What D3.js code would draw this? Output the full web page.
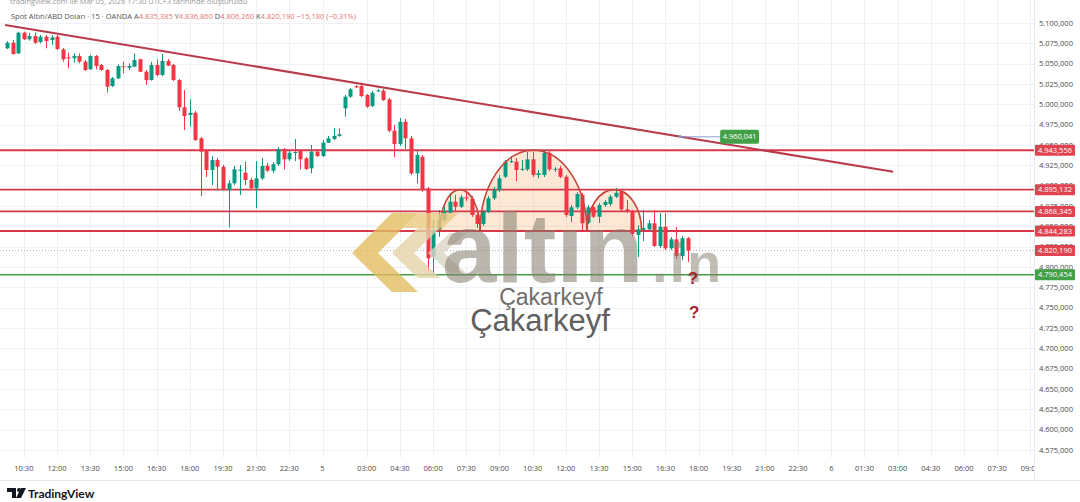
<!DOCTYPE html>
<html><head><meta charset="utf-8">
<script src="https://cdn.jsdelivr.net/npm/d3@7"></script>
<style>html,body{margin:0;padding:0;background:#fff;} svg{display:block;font-family:"Open Sans","Liberation Sans",Arial,sans-serif;}</style>
</head><body>
<svg id="c" width="1080" height="502"></svg>
<script>
// ---------- DATA ----------
const open=[5068.9,5075.8,5062.7,5088.1,5080.0,5084.0,5076.6,5083.2,5079.1,5083.2,
5067.7,5057.8,5056.6,5059.4,5052.4,5043.1,5059.4,5048.4,5042.2,5022.5,
5032.0,5046.8,5045.0,5046.3,5055.4,5040.1,5029.9,5048.4,5036.1,5053.3,
5048.4,5029.9,4996.3,4986.9,4989.7,4958.2,4943.8,4919.3,4931.5,4923.3,
4894.7,4902.9,4918.9,4915.9,4907.0,4896.8,4909.0,4924.5,4918.4,4926.3,
4945.1,4932.4,4940.5,4942.6,4933.6,4921.3,4941.8,4936.5,4952.8,4957.4,
4961.1,4995.1,5009.4,5022.2,5022.5,5011.5,4997.9,5016.4,5016.8,5006.2,
4967.6,4951.2,4978.6,4958.2,4915.2,4935.6,4896.8,4812.6,4846.3,4857.8,
4866.7,4880.3,4874.1,4885.7,4884.2,4863.9,4852.9,4868.0,4884.5,4894.7,
4911.0,4929.5,4929.5,4919.9,4920.1,4932.4,4913.1,4913.1,4940.5,4920.1,
4921.3,4911.0,4862.7,4873.4,4888.5,4854.4,4873.4,4861.8,4876.2,4877.4,
4886.4,4892.6,4870.9,4868.0,4839.3,4845.5,4846.3,4853.7,4825.8,4849.5,
4823.0,4834.0,4813.5,4835.385];
const high=[5077.9,5079.1,5089.3,5089.3,5088.1,5088.1,5085.2,5085.2,5085.2,5085.2,
5069.3,5063.5,5062.7,5062.7,5054.5,5060.7,5060.7,5049.6,5043.4,5033.6,
5049.2,5052.4,5050.5,5062.7,5056.1,5042.2,5052.4,5055.4,5061.9,5055.7,
5049.6,5031.1,5017.6,5006.2,4991.8,4959.8,4945.1,4936.5,4934.0,4925.4,
4907.0,4924.2,4925.4,4929.5,4909.4,4930.3,4934.0,4927.9,4929.1,4947.5,
4946.3,4943.8,4957.4,4943.8,4935.2,4950.0,4945.1,4956.1,4961.1,4970.5,
4970.5,5011.5,5020.1,5023.8,5023.8,5012.7,5016.4,5018.9,5018.9,5007.8,
4974.6,4983.2,4982.0,4961.1,4943.8,4937.7,4898.3,4857.8,4870.1,4876.2,
4890.6,4888.5,4888.5,4891.0,4887.3,4866.4,4870.1,4887.3,4898.3,4913.1,
4931.5,4936.5,4934.0,4931.5,4941.4,4941.4,4919.3,4943.8,4942.6,4922.9,
4924.2,4913.1,4876.2,4892.2,4891.0,4876.2,4875.0,4878.7,4882.4,4888.5,
4897.1,4894.7,4882.4,4870.1,4851.6,4870.1,4857.8,4870.1,4866.4,4866.4,
4836.9,4849.2,4838.1,4836.86];
const low=[5068.0,5061.0,5061.9,5079.1,5078.2,5074.2,5075.0,5068.9,5073.0,5066.8,
5052.4,5044.3,5051.2,5050.5,5041.0,5042.2,5043.1,5041.0,5014.3,5021.3,
5031.1,5038.2,5042.2,5045.9,5039.8,5023.8,5029.1,5034.8,5034.8,5047.1,
5028.7,4991.8,4968.4,4972.5,4954.9,4887.3,4910.6,4900.8,4894.7,4894.7,
4848.8,4900.8,4888.5,4900.8,4895.9,4872.2,4907.0,4916.8,4915.6,4924.2,
4920.1,4930.3,4930.3,4920.1,4919.3,4915.2,4935.2,4935.2,4952.5,4956.1,
4960.2,4984.8,5007.8,5020.1,5009.0,4995.5,4996.7,5015.2,5004.1,4966.0,
4935.2,4948.8,4945.1,4913.1,4902.9,4892.2,4795.0,4790.5,4837.2,4855.3,
4865.2,4868.0,4872.5,4881.1,4861.5,4847.9,4850.4,4866.4,4882.4,4892.2,
4909.4,4927.9,4905.7,4918.0,4918.0,4910.6,4909.0,4910.6,4918.0,4916.8,
4909.4,4861.5,4855.3,4871.3,4843.4,4852.9,4860.2,4854.1,4873.8,4875.0,
4884.8,4868.8,4866.4,4838.1,4812.3,4832.0,4843.0,4824.6,4823.3,4820.9,
4820.9,4809.8,4808.6,4806.26];
const close=[5075.8,5061.9,5088.1,5080.0,5084.0,5075.8,5083.2,5077.9,5082.4,5068.0,
5055.4,5057.0,5059.4,5052.4,5042.2,5059.4,5047.1,5042.2,5021.7,5032.0,
5047.1,5045.9,5047.1,5054.5,5040.1,5029.9,5048.4,5036.1,5053.3,5047.5,
5029.9,4996.3,4985.6,4989.7,4956.1,4941.8,4919.3,4931.5,4923.3,4895.5,
4902.9,4920.1,4919.6,4907.0,4896.8,4909.0,4924.2,4918.4,4926.3,4945.1,
4932.4,4940.5,4941.4,4932.4,4920.5,4941.8,4936.5,4952.8,4958.2,4961.1,
4963.2,5009.4,5018.5,5021.3,5010.2,4997.1,5014.3,5017.1,5005.3,4967.6,
4951.2,4978.6,4958.2,4915.2,4937.7,4894.7,4810.7,4845.5,4858.6,4868.0,
4880.3,4874.1,4885.7,4884.2,4863.9,4852.9,4868.0,4884.5,4894.7,4909.0,
4929.5,4930.1,4919.3,4920.7,4932.4,4913.1,4915.2,4940.5,4920.1,4920.7,
4911.0,4863.9,4873.4,4889.7,4853.7,4873.4,4861.8,4876.2,4879.9,4886.4,
4891.3,4870.9,4868.0,4840.6,4846.3,4847.9,4853.7,4825.8,4849.5,4823.0,
4834.0,4813.5,4835.3,4820.19];

const timeTickIdx=[3,9,15,21,27,33,39,45,51,57,65,71,77,83,89,95,101,107,113,119,125,131,137,143,149,155,161,167,173,179,185];
const timeTickLabels=["10:30","12:00","13:30","15:00","16:30","18:00","19:30","21:00","22:30","5","03:00","04:30","06:00","07:30","09:00","10:30","12:00","13:30","15:00","16:30","18:00","19:30","21:00","22:30","6","01:30","03:00","04:30","06:00","07:30","09:00"];
const priceTicks=d3.range(4575,5100.1,25);

const resistanceLevels=[4943.556,4895.132,4868.345,4844.283];
const supportLevels=[4790.454];
const lastPrice=4820.190;
const trendLine=[{i:-0.4,p:5097.6},{i:160.2,p:4917.0}];
const trendTag={i0:121.7,i1:128.9,p:4960.041};
const patternArcs=[{from:78.2,to:85.5,base:4844.283,peak:4895.132},
                   {from:85.5,to:104.8,base:4844.283,peak:4943.556},
                   {from:104.8,to:114.7,base:4844.283,peak:4895.132}];
const questionMarks=[{i:124.0,p:4779},{i:124.2,p:4737}];
const header={title:"Spot Altın/ABD Doları · 15 · OANDA",o:4835.385,h:4836.860,l:4806.260,c:4820.190,chg:-15.180,pct:-0.31};

// ---------- SETUP ----------
const svg=d3.select("#c");
const plotR=1034, plotB=458;
const x=d3.scaleLinear().domain([0,123]).range([7.3,687.5]);
const y=d3.scaleLinear().domain([4575,5100]).range([450,23]);
const tr=d3.formatLocale({decimal:",",thousands:".",grouping:[3],currency:["",""]});
const fmt=tr.format(",.3f");
const up="#089981", dn="#f23645";

svg.append("rect").attr("width",1080).attr("height",502).attr("fill","#fff");
const defs=svg.append("defs");
defs.append("clipPath").attr("id","plot").append("rect").attr("x",0).attr("y",0).attr("width",plotR).attr("height",plotB);
defs.append("clipPath").attr("id","taxis").append("rect").attr("x",0).attr("y",plotB).attr("width",plotR).attr("height",40);

// grid
const grid=svg.append("g").attr("clip-path","url(#plot)");
grid.selectAll(".vg").data(timeTickIdx).join("line")
  .attr("x1",d=>Math.round(x(d))+0.5).attr("x2",d=>Math.round(x(d))+0.5)
  .attr("y1",0).attr("y2",plotB).attr("stroke","#f0f1f4").attr("stroke-width",1);
grid.selectAll(".hg").data(priceTicks).join("line")
  .attr("x1",0).attr("x2",plotR).attr("y1",d=>Math.round(y(d))+0.5).attr("y2",d=>Math.round(y(d))+0.5)
  .attr("stroke","#f0f1f4").attr("stroke-width",1);

// frame
svg.append("line").attr("x1",plotR+0.5).attr("x2",plotR+0.5).attr("y1",0).attr("y2",480).attr("stroke","#e8e8ea");
svg.append("line").attr("x1",0).attr("x2",1080).attr("y1",480.5).attr("y2",480.5).attr("stroke","#e8e8ea");

const plot=svg.append("g").attr("clip-path","url(#plot)");

// pattern fills (behind candles)
function arcPath(a){
  const x0=x(a.from), x1=x(a.to), yb=y(a.base), yp=y(a.peak);
  const rx=(x1-x0)/2, ry=yb-yp;
  return `M${x0},${yb} A${rx},${ry} 0 0 1 ${x1},${yb}`;
}
plot.selectAll(".pf").data(patternArcs).join("path")
  .attr("d",d=>arcPath(d)+" Z").attr("fill","rgba(250,180,120,0.3)").attr("stroke","none");

// last price dotted line
plot.append("line").attr("x1",0).attr("x2",plotR).attr("y1",y(lastPrice)).attr("y2",y(lastPrice))
  .attr("stroke","#b0b0b0").attr("stroke-dasharray","1,2").attr("stroke-width",1);

// level lines
plot.selectAll(".rl").data(resistanceLevels).join("line")
  .attr("x1",0).attr("x2",plotR).attr("y1",d=>y(d)).attr("y2",d=>y(d))
  .attr("stroke","#d63a48").attr("stroke-width",1.8);
plot.selectAll(".sl").data(supportLevels).join("line")
  .attr("x1",0).attr("x2",plotR).attr("y1",d=>y(d)).attr("y2",d=>y(d))
  .attr("stroke","#43a047").attr("stroke-width",1.5);

// candles
const data=open.map((o,i)=>({i,o,h:high[i],l:low[i],c:close[i]}));
const cg=plot.append("g");
cg.selectAll(".w").data(data).join("line")
  .attr("x1",d=>Math.round(x(d.i))+0.5).attr("x2",d=>Math.round(x(d.i))+0.5)
  .attr("y1",d=>y(d.h)).attr("y2",d=>y(d.l))
  .attr("stroke",d=>d.c>=d.o?up:dn).attr("stroke-width",1);
cg.selectAll(".b").data(data).join("rect")
  .attr("x",d=>Math.round(x(d.i))-1.5).attr("width",4)
  .attr("y",d=>y(Math.max(d.o,d.c))).attr("height",d=>Math.max(1,Math.abs(y(d.o)-y(d.c))))
  .attr("fill",d=>d.c>=d.o?up:dn);

// pattern arc strokes
plot.selectAll(".pa").data(patternArcs).join("path")
  .attr("d",arcPath).attr("fill","none").attr("stroke","#c8453c").attr("stroke-width",1.6);

// trend line
plot.append("line").attr("x1",x(trendLine[0].i)).attr("y1",y(trendLine[0].p))
  .attr("x2",x(trendLine[1].i)).attr("y2",y(trendLine[1].p))
  .attr("stroke","#b83a4b").attr("stroke-width",2);

// trend tag
plot.append("line").attr("x1",x(trendTag.i0)).attr("x2",x(trendTag.i1)).attr("y1",y(trendTag.p)).attr("y2",y(trendTag.p))
  .attr("stroke","#8c9fcf").attr("stroke-width",1);
plot.append("circle").attr("cx",x(trendTag.i0)).attr("cy",y(trendTag.p)).attr("r",1.5).attr("fill","#8c9fcf");
plot.append("rect").attr("x",x(trendTag.i1)).attr("y",y(trendTag.p)-7).attr("width",39).attr("height",14).attr("rx",2)
  .attr("fill","#43a047");
plot.append("text").attr("x",x(trendTag.i1)+19.5).attr("y",y(trendTag.p)+2.6).attr("text-anchor","middle")
  .attr("font-size",7.5).attr("fill","#fff").text(fmt(trendTag.p));

// watermark logo
const wm=svg.append("g").attr("opacity",0.8);
wm.append("polygon").attr("points","352,253 392,213 418,213 378,253 418,292 392,292").attr("fill","#e3bd62");
wm.append("polygon").attr("points","418,213 458,213 443,228 403,228").attr("fill","#e9cb82");
wm.append("polygon").attr("points","392,253 418,228 440,228 414,253 440,278 418,278").attr("fill","#e6d3a8");
wm.append("polygon").attr("points","428,253 450,233 466,233 444,253 466,273 450,273").attr("fill","#ddd6c6");
svg.append("text").attr("x",442).attr("y",282).attr("font-family","Liberation Sans, Arial, sans-serif")
  .attr("font-weight","bold").attr("font-size",98).attr("fill","#857d6e").attr("opacity",0.55).text("altın");
svg.append("text").attr("x",652).attr("y",282).attr("font-family","Liberation Sans, Arial, sans-serif")
  .attr("font-weight","bold").attr("font-size",56).attr("letter-spacing",2).attr("fill","#857d6e").attr("opacity",0.5).text(".in");

svg.append("text").attr("x",551).attr("y",305).attr("text-anchor","middle").attr("font-family","Liberation Sans, Arial, sans-serif")
  .attr("font-size",23).attr("fill","#6e6e6e").text("Çakarkeyf");
svg.append("text").attr("x",540).attr("y",331).attr("text-anchor","middle").attr("font-family","Liberation Sans, Arial, sans-serif")
  .attr("font-size",31).attr("fill","#606060").text("Çakarkeyf");

// question marks
svg.selectAll(".q").data(questionMarks).join("text")
  .attr("x",d=>x(d.i)).attr("y",d=>y(d.p)).attr("text-anchor","middle")
  .attr("font-family","Liberation Sans, Arial, sans-serif").attr("font-weight","bold").attr("font-size",17)
  .attr("fill","#a8232e").text("?");

// right axis
const ra=svg.append("g");
ra.selectAll(".pt").data(priceTicks).join("text")
  .attr("x",1039).attr("y",d=>y(d)+2.6).attr("font-size",7.5).attr("fill","#4a4a4a").text(d=>fmt(d));
function tag(p,col){
  ra.append("rect").attr("x",plotR+1).attr("y",y(p)-5.5).attr("width",40).attr("height",11).attr("rx",1).attr("fill",col);
  ra.append("text").attr("x",plotR+21).attr("y",y(p)+2.6).attr("text-anchor","middle").attr("font-size",7.5)
    .attr("fill","#fff").text(fmt(p));
}
resistanceLevels.forEach(p=>tag(p,"#e0434f"));
tag(lastPrice,"#e0434f");
supportLevels.forEach(p=>tag(p,"#43a047"));

// time axis
svg.append("g").attr("clip-path","url(#taxis)").selectAll(".tt").data(timeTickIdx).join("text")
  .attr("x",d=>x(d)).attr("y",471).attr("text-anchor","middle").attr("font-size",7.5).attr("fill","#4a4a4a")
  .text((d,k)=>timeTickLabels[k]);

// header
svg.append("text").attr("x",10).attr("y",4).attr("font-size",7.5).attr("fill","#9a9a9a")
  .text("tradingview.com ile Mar 05, 2026 17:30 UTC+3 tarihinde oluşturuldu");
const ht=svg.append("text").attr("x",11).attr("y",19).attr("font-size",7.5).attr("fill","#555");
const f2=tr.format(",.3f");
ht.append("tspan").text(header.title+"  ");
[["A",header.o],["Y",header.h],["D",header.l],["K",header.c]].forEach(([k,v])=>{
  ht.append("tspan").attr("fill","#555").text(" "+k);
  ht.append("tspan").attr("fill","#e57373").text(f2(v)+" ");
});
ht.append("tspan").attr("fill","#e57373").text(" −"+tr.format(",.3f")(-header.chg)+" (−"+tr.format(",.2f")(-header.pct)+"%)");

// TradingView brand
const tv=svg.append("g").attr("fill","#131722");
tv.append("path").attr("d","M7 488h9v10h-4v-6h-5z");
tv.append("circle").attr("cx",19).attr("cy",490).attr("r",2);
tv.append("path").attr("d","M21 488h5l-5 10h-5z");
svg.append("text").attr("x",28).attr("y",497.5).attr("font-size",12).attr("font-weight","bold").attr("fill","#131722")
  .attr("font-family","Lato, 'Open Sans', sans-serif").text("TradingView");
</script>
</body></html>
